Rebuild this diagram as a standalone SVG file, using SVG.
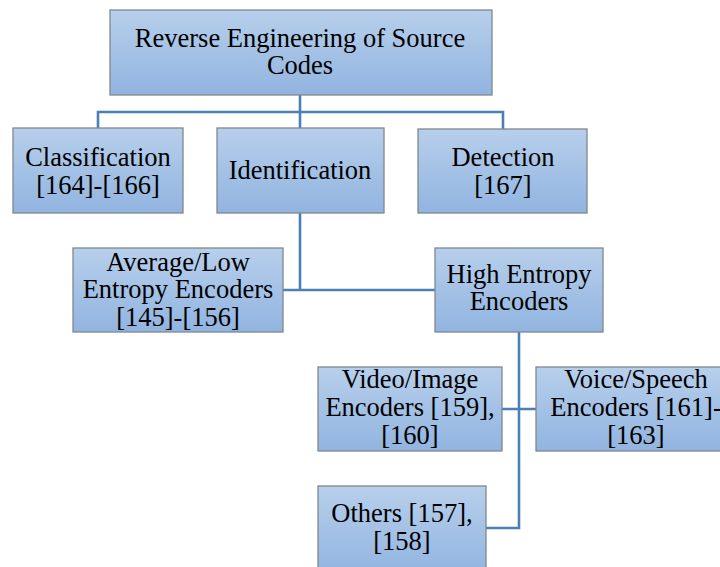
<svg xmlns="http://www.w3.org/2000/svg" width="720" height="567" viewBox="0 0 720 567">
<defs>
<linearGradient id="g" x1="0" y1="0" x2="0" y2="1">
<stop offset="0" stop-color="#b7cfeb"/>
<stop offset="1" stop-color="#91b4e0"/>
</linearGradient>
<style>
.box{fill:url(#g);stroke:#808890;stroke-width:1.3}
.t{font-family:"Liberation Serif","Times New Roman",serif;font-size:26.5px;fill:#000;text-anchor:middle}
.c{fill:none;stroke:#4a7fb8;stroke-width:2.6}
</style>
</defs>
<rect width="720" height="567" fill="#fff"/>
<g id="connectors">
<path class="c" d="M300 95V112M98 128V112H503V129M300 112V128"/>
<path class="c" d="M300 213V290M283 290H435"/>
<path class="c" d="M519 332V528H486M502 409H536"/>
</g>
<g id="root"><rect class="box" x="110" y="10" width="382" height="85"/><text class="t" x="300" y="47">Reverse Engineering of Source</text><text class="t" x="300" y="74">Codes</text></g>
<g id="classification"><rect class="box" x="13" y="128" width="170" height="85"/><text class="t" x="98" y="166">Classification</text><text class="t" x="98" y="194">[164]-[166]</text></g>
<g id="identification"><rect class="box" x="217" y="128" width="167" height="85"/><text class="t" x="300" y="179">Identification</text></g>
<g id="detection"><rect class="box" x="418" y="129" width="169" height="84"/><text class="t" x="503" y="166">Detection</text><text class="t" x="503" y="194">[167]</text></g>
<g id="avglow"><rect class="box" x="73" y="248" width="210" height="84"/><text class="t" x="178" y="271">Average/Low</text><text class="t" x="178" y="298">Entropy Encoders</text><text class="t" x="178" y="326">[145]-[156]</text></g>
<g id="highentropy"><rect class="box" x="435" y="248" width="168" height="84"/><text class="t" x="519" y="283">High Entropy</text><text class="t" x="519" y="310">Encoders</text></g>
<g id="video"><rect class="box" x="318" y="367" width="184" height="84"/><text class="t" x="410" y="388">Video/Image</text><text class="t" x="410" y="416">Encoders [159],</text><text class="t" x="410" y="444">[160]</text></g>
<g id="voice"><rect class="box" x="536" y="367" width="200" height="84"/><text class="t" x="636" y="388">Voice/Speech</text><text class="t" x="636" y="416">Encoders [161]-</text><text class="t" x="636" y="444">[163]</text></g>
<g id="others"><rect class="box" x="318" y="486" width="168" height="90"/><text class="t" x="402" y="522">Others [157],</text><text class="t" x="402" y="550">[158]</text></g>
</svg>
